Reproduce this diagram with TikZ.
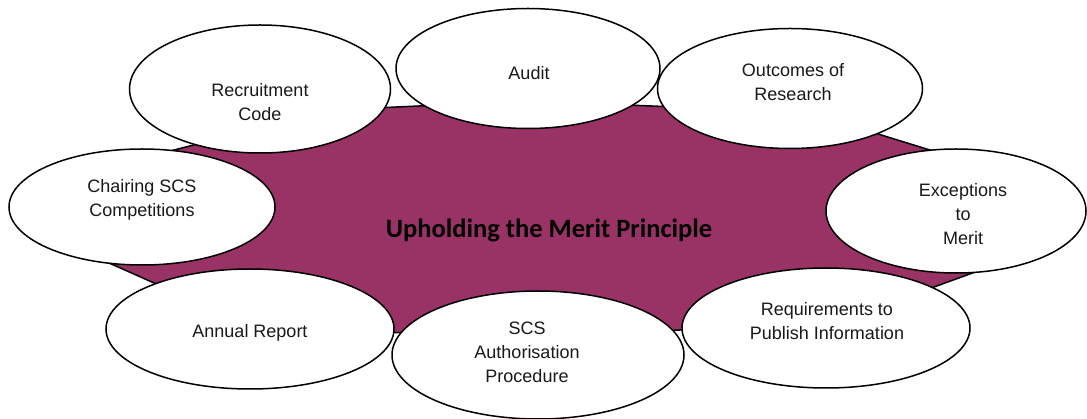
\documentclass[tikz,border=0pt]{standalone}
\usepackage{fontspec}
\setmainfont{Liberation Sans}
\newfontfamily\titlefont{Carlito}
\usetikzlibrary{shapes}
\usepackage{xcolor}
\definecolor{meritpurple}{RGB}{153,51,102}

\begin{document}
\begin{tikzpicture}[x=1pt,y=-1pt,
  topic/.style={ellipse,draw=black,line width=1.5pt,fill=white,inner sep=0pt},
  topictext/.style={align=center,font=\fontsize{18}{24}\selectfont,text=black!90}]
\newcommand{\topic}[5]{
  \node[topic,minimum width=2*#4,minimum height=2*#5] (#1) at (#2,#3) {};
}

\useasboundingbox (0,0) rectangle (1087,419);

\draw[fill=meritpurple,line width=1.5pt,line join=miter]
  (100,169) -- (330,110) -- (530,101) -- (700,108) -- (807,112) -- (1030,181)
  -- (1030,252) -- (830,325) -- (530,335) -- (260,330) -- (100,259) -- cycle;

\node[font=\titlefont\bfseries\fontsize{26.5}{30}\selectfont] (merit) at (549,230) {Upholding the Merit Principle};

\topic{recruit}{260}{89}{130.5}{64}
\topic{chairing}{142}{207}{133}{58}
\topic{audit}{528}{68.5}{132}{60}
\topic{outcomes}{790}{88.5}{132.5}{60}
\topic{exceptions}{956}{211}{130}{62}
\topic{requirements}{826}{328}{144}{60}
\topic{annual}{250}{329}{144}{60}
\topic{scs}{538}{355}{146}{64}

\node[topictext] (recruit-text) at (260,102) {Recruitment\\Code};
\node[topictext] (chairing-text) at (142,200) {Chairing SCS\\Competitions};
\node[topictext] (audit-text) at (529,73) {Audit};
\node[topictext] (outcomes-text) at (793,82) {Outcomes of\\Research};
\node[topictext] (exceptions-text) at (963,214) {Exceptions\\to\\Merit};
\node[topictext] (requirements-text) at (827,321) {Requirements to\\Publish Information};
\node[topictext] (annual-text) at (250,333) {Annual Report};
\node[topictext] (scs-text) at (527,352) {SCS\\Authorisation\\Procedure};

\end{tikzpicture}
\end{document}
